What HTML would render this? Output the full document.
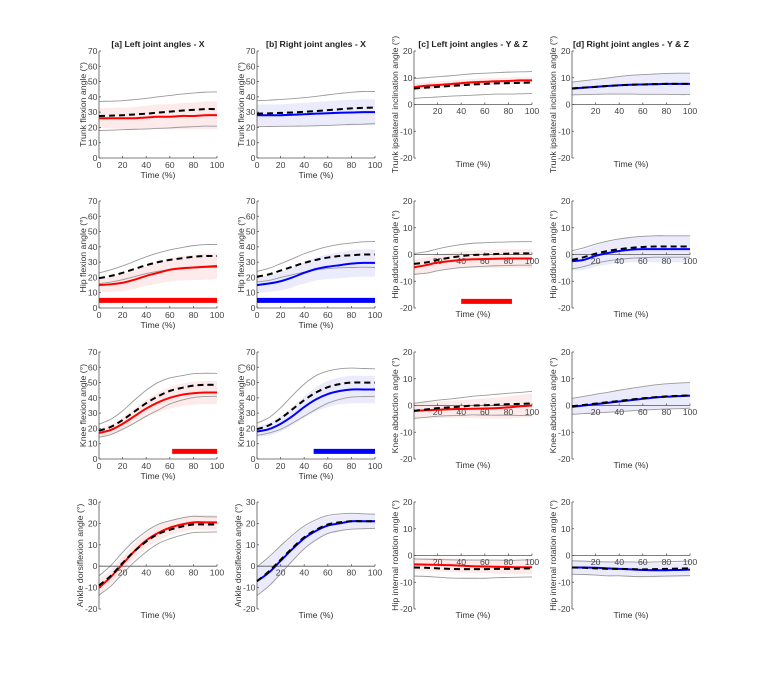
<!DOCTYPE html>
<html><head><meta charset="utf-8"><style>
body{margin:0;background:#fff}
svg{display:block;font-family:"Liberation Sans",sans-serif}
</style></head><body>
<svg id="fig" width="764" height="685" viewBox="0 0 764 685"></svg>
<script>
const timePoints=[0,10,20,30,40,50,60,70,80,90,100];
const tickLabelsX=[0,20,40,60,80,100];
const columnTitles=["[a] Left joint angles - X","[b] Right joint angles - X","[c] Left joint angles - Y & Z","[d] Right joint angles - Y & Z"];
// row 1
const aTrunkMean=[26,26,26,26,26.5,27,27,27.5,27.5,28,28];
const aTrunkSd=[6.5,6.7,7,7.3,7.6,8,8.3,8.5,8.7,9,9];
const aTrunkHealthy=[27.5,27.7,28,28.5,29,29.7,30.3,31,31.5,32,32];
const aTrunkHealthySd=[9.5,9.5,9.5,9.7,10,10.3,10.6,10.8,11,11.1,11.2];
const bTrunkMean=[28,28,28,28.3,28.6,29,29.3,29.6,29.8,30,30];
const bTrunkSd=[7,7,7.1,7.3,7.5,7.7,7.9,8.1,8.3,8.4,8.5];
const bTrunkHealthy=[29,29.2,29.5,29.8,30.2,30.7,31.3,31.9,32.5,32.8,33];
const bTrunkHealthySd=[8.5,8.6,8.8,9,9.3,9.6,10,10.3,10.5,10.7,10.5];
const cTrunkMean=[6.5,7,7.3,7.6,8,8.3,8.5,8.7,8.8,9,9];
const cTrunkSd=[1.3,1.3,1.3,1.3,1.3,1.3,1.3,1.3,1.3,1.3,1.3];
const cTrunkHealthy=[6,6.3,6.6,6.9,7.2,7.5,7.7,7.9,8,8.1,8.2];
const cTrunkHealthySd=[3.7,3.7,3.8,3.8,3.9,4,4,4,4.1,4.1,4.1];
const dTrunkMean=[6,6.3,6.6,6.9,7.2,7.4,7.5,7.6,7.7,7.7,7.7];
const dTrunkSd=[2.4,2.6,2.8,3,3.3,3.5,3.7,3.8,3.9,4,4];
const dTrunkHealthy=[6,6.3,6.6,6.9,7.2,7.4,7.5,7.6,7.7,7.7,7.7];
const dTrunkHealthySd=[2.4,2.6,2.8,3,3.3,3.5,3.7,3.8,3.9,4,4];
// row 2
const aHipMean=[15,15.5,16.5,18.5,21,23,25,26,26.5,27,27.5];
const aHipSd=[4.5,5,5.5,6,6.5,7,7.5,8,8.3,8.5,8.5];
const aHipHealthy=[19.5,21,23,25.5,28,30,31.5,32.5,33.5,34,34];
const aHipHealthySd=[3.5,4,4.5,5,5.5,6,6.5,7,7.3,7.5,7.5];
const bHipMean=[15,16,17.5,20,23,25.5,27,28,29,29.5,29.5];
const bHipSd=[5,5.5,6,6.5,7,7.5,8,8.5,8.8,9,9];
const bHipHealthy=[20.5,22,24.5,27,29.5,31.5,33,34,34.5,35,35];
const bHipHealthySd=[3.5,4,4.5,5.2,6,6.6,7.2,7.7,8,8.3,8.5];
const cHipMean=[-4.8,-4,-3,-2.5,-2,-1.8,-1.7,-1.6,-1.5,-1.5,-1.5];
const cHipSd=[2.8,2.9,3,3.1,3.2,3.3,3.4,3.5,3.5,3.5,3.5];
const cHipHealthy=[-3.5,-3,-2,-1.2,-0.6,-0.2,0,0.2,0.3,0.4,0.4];
const cHipHealthySd=[3.9,4,4.1,4.2,4.3,4.4,4.4,4.4,4.4,4.4,4.4];
const dHipMean=[-2.5,-2,-0.5,0.5,1.3,1.8,2,2,2,2,2];
const dHipSd=[3.5,3.8,4,4.3,4.5,4.7,4.8,4.9,5,5,5];
const dHipHealthy=[-2,-1,0.3,1.3,2,2.5,2.8,3,3,3,3];
const dHipHealthySd=[3.4,3.5,3.6,3.7,3.8,3.9,4,4,4,4,4];
// row 3
const aKneeMean=[17,19,23,28,33,37,40,42,43,43.5,43.5];
const aKneeSd=[3,3.5,4.2,5,5.8,6.5,7,7.3,7.5,7.5,7.5];
const aKneeHealthy=[18.5,21,25.5,31,36.5,41,44.5,46.5,48,48.5,48.5];
const aKneeHealthySd=[4.3,5,6,7.5,8.5,9,8.5,8,7.8,7.6,7.5];
const bKneeMean=[18,19.5,23,28,34,39,42.5,44.5,45.5,45.5,45.5];
const bKneeSd=[3.5,4.2,5,6,7,8,8.5,8.8,9,9,9];
const bKneeHealthy=[19.5,22,26.5,32.5,38.5,43.5,47,49,50,50,50];
const bKneeHealthySd=[4,5,7,9,10.5,11,10.5,10,9.5,9.2,9];
const cKneeMean=[-2,-1.8,-1.6,-1.4,-1.3,-1.2,-1.1,-1,-0.7,-0.3,0];
const cKneeSd=[3,3,3.1,3.2,3.3,3.5,3.7,3.9,4.1,4.3,4.5];
const cKneeHealthy=[-2,-1.5,-1,-0.7,-0.4,0,0.1,0.3,0.5,0.6,0.8];
const cKneeHealthySd=[2.8,2.9,3,3.1,3.3,3.5,3.7,3.9,4.1,4.3,4.5];
const dKneeMean=[-0.5,0,0.5,1,1.5,2,2.5,3,3.3,3.5,3.7];
const dKneeSd=[3,3.2,3.5,3.7,4,4.2,4.4,4.6,4.7,4.8,4.8];
const dKneeHealthy=[-0.3,0.2,0.7,1.2,1.7,2.2,2.7,3.1,3.4,3.6,3.8];
const dKneeHealthySd=[3,3.2,3.5,3.7,4,4.2,4.4,4.6,4.7,4.8,4.8];
// row 4
const aAnkleMean=[-10,-5,1,7,12,15.5,18,19.5,20.5,20.5,20.5];
const aAnkleSd=[3.5,3.5,3.5,3.5,3.5,3.5,3.5,3.5,3.5,3.5,3.5];
const aAnkleHealthy=[-9,-4.5,1.5,7,11.5,15,17,18.5,19.5,19.5,19.5];
const aAnkleHealthySd=[4.5,4.8,5,5,4.8,4.5,4.2,4,3.8,3.6,3.5];
const bAnkleMean=[-7,-3,2.5,8,13,16.5,19,20,21,21,21];
const bAnkleSd=[6.5,6.8,6.5,6,5.3,4.7,4.2,3.9,3.7,3.5,3.5];
const bAnkleHealthy=[-7,-2.5,3,8.5,13.5,17,19.5,20.5,21,21,21];
const bAnkleHealthySd=[6.7,6.8,6.5,6,5.3,4.7,4.2,3.9,3.7,3.5,3.3];
const cRotMean=[-3.3,-3.4,-3.5,-3.6,-3.8,-4,-4.1,-4.2,-4.3,-4.4,-4.4];
const cRotSd=[2.4,2.4,2.5,2.5,2.6,2.6,2.6,2.6,2.6,2.6,2.6];
const cRotHealthy=[-4.5,-4.6,-4.8,-5,-5.1,-5.1,-5.1,-5,-5,-4.9,-4.8];
const cRotHealthySd=[3.2,3.2,3.3,3.4,3.4,3.4,3.4,3.3,3.2,3.2,3.2];
const dRotMean=[-4.5,-4.5,-4.6,-4.8,-5,-5.2,-5.4,-5.5,-5.5,-5.4,-5.3];
const dRotSd=[2.5,2.5,2.5,2.6,2.6,2.7,2.7,2.7,2.7,2.7,2.7];
const dRotHealthy=[-4.5,-4.6,-4.8,-5,-5,-5.1,-5.2,-5.1,-5,-4.9,-4.8];
const dRotHealthySd=[2.5,2.5,2.5,2.6,2.6,2.7,2.7,2.7,2.7,2.7,2.7];
// significance bars [start, end, level]
const aHipSig=[0,100,5];
const bHipSig=[0,100,5];
const cHipSig=[40,83,-17.5];
const aKneeSig=[62,100,5];
const bKneeSig=[48,100,5];

const NS="http://www.w3.org/2000/svg";
const svg=document.getElementById('fig');
function mk(tag,attrs,parent){const e=document.createElementNS(NS,tag);for(const k in attrs)e.setAttribute(k,attrs[k]);(parent||svg).appendChild(e);return e;}
function smooth(pts){let d='M'+pts[0][0].toFixed(2)+','+pts[0][1].toFixed(2);for(let i=0;i<pts.length-1;i++){const p0=pts[Math.max(0,i-1)],p1=pts[i],p2=pts[i+1],p3=pts[Math.min(pts.length-1,i+2)];const c1=[p1[0]+(p2[0]-p0[0])/6,p1[1]+(p2[1]-p0[1])/6],c2=[p2[0]-(p3[0]-p1[0])/6,p2[1]-(p3[1]-p1[1])/6];d+='C'+c1[0].toFixed(2)+','+c1[1].toFixed(2)+' '+c2[0].toFixed(2)+','+c2[1].toFixed(2)+' '+p2[0].toFixed(2)+','+p2[1].toFixed(2);}return d;}
function smoothPts(pts){return smooth(pts).slice(1);}

const colX=[99,257,414,572];
const rowTop=[51,201,352,502];
const W=118,H=107;
const FS=8.7;
const colors=['#ff0000','#0000ff','#ff0000','#0000ff'];
const bands=['#fdeaea','#ebebfc','#fdeaea','#ebebfc'];

function panel(col,row,name,ylabel,ymin,ymax,ystep,mean,sd,hm,hsd,sig){
  const g=mk('g',{});
  
  
  const x0=colX[col],y0=rowTop[row];
  const sx=v=>x0+v/100*W;
  const sy=v=>y0+H-(v-ymin)/(ymax-ymin)*H;
  const up=timePoints.map((t,i)=>[sx(t),sy(mean[i]+sd[i])]);
  const lo=timePoints.map((t,i)=>[sx(t),sy(mean[i]-sd[i])]).reverse();
  const band=mk('path',{d:smooth(up)+'L'+smoothPts(lo)+'Z',fill:bands[col],stroke:'none'},g);
  
  
  const hu=mk('path',{d:smooth(timePoints.map((t,i)=>[sx(t),sy(hm[i]+hsd[i])])),fill:'none',stroke:'#9a9a9a','stroke-width':0.9},g);
  
  
  const hl=mk('path',{d:smooth(timePoints.map((t,i)=>[sx(t),sy(hm[i]-hsd[i])])),fill:'none',stroke:'#9a9a9a','stroke-width':0.9},g);
  
  
  const zeroAxis=(ymin<0);
  const axisY=zeroAxis?sy(0):y0+H;
  const ya=mk('line',{x1:x0,y1:y0,x2:x0,y2:y0+H,stroke:'#555','stroke-width':0.8},g);
  
  
  const xa=mk('line',{x1:x0,y1:axisY,x2:x0+W,y2:axisY,stroke:'#555','stroke-width':0.8},g);
  
  
  for(let v=ymin;v<=ymax+1e-9;v+=ystep){
    mk('line',{x1:x0,y1:sy(v),x2:x0+2,y2:sy(v),stroke:'#555','stroke-width':0.8},g);
    const t=mk('text',{x:x0-1.5,y:sy(v)+3,'text-anchor':'end','font-size':FS,fill:'#444'},g);
    
    
    t.textContent=v;
  }
  tickLabelsX.forEach(v=>{
    if(zeroAxis&&v===0)return;
    mk('line',{x1:sx(v),y1:axisY,x2:sx(v),y2:axisY-2,stroke:'#555','stroke-width':0.8},g);
    const t=mk('text',{x:sx(v),y:axisY+(zeroAxis?9.5:10),'text-anchor':'middle','font-size':FS,fill:'#444'},g);
    
    
    t.textContent=v;
  });
  const xt=mk('text',{x:x0+W/2,y:zeroAxis?y0+H+9:y0+H+20,'text-anchor':'middle','font-size':FS,fill:'#333'},g);
  
  
  xt.textContent='Time (%)';
  const yx=x0-(zeroAxis?16:13), yc=y0+H/2;
  const yt=mk('text',{x:yx,y:yc,'text-anchor':'middle','font-size':FS,fill:'#333',transform:`rotate(-90 ${yx} ${yc})`},g);
  
  
  yt.textContent=ylabel;
  const pm=mk('path',{d:smooth(timePoints.map((t,i)=>[sx(t),sy(mean[i])])),fill:'none',stroke:colors[col],'stroke-width':2},g);
  
  
  const hd=mk('path',{d:smooth(timePoints.map((t,i)=>[sx(t),sy(hm[i])])),fill:'none',stroke:'#000','stroke-width':2,'stroke-dasharray':'6,4'},g);
  
  
  if(sig){
    const s=mk('line',{x1:sx(sig[0]),y1:sy(sig[2]),x2:sx(sig[1]),y2:sy(sig[2]),stroke:colors[col],'stroke-width':5},g);
    
    
  }
  if(row===0){
    const tt=mk('text',{x:x0+W/2,y:y0-4,'text-anchor':'middle','font-size':FS,'font-weight':'bold',fill:'#222'},g);
    
    
    tt.textContent=columnTitles[col];
  }
}
panel(0,0,'left-trunk-flexion','Trunk flexion angle (°)',0,70,10,aTrunkMean,aTrunkSd,aTrunkHealthy,aTrunkHealthySd,null);
panel(1,0,'right-trunk-flexion','Trunk flexion angle (°)',0,70,10,bTrunkMean,bTrunkSd,bTrunkHealthy,bTrunkHealthySd,null);
panel(2,0,'left-trunk-inclination','Trunk ipsilateral inclination angle (°)',-20,20,10,cTrunkMean,cTrunkSd,cTrunkHealthy,cTrunkHealthySd,null);
panel(3,0,'right-trunk-inclination','Trunk ipsilateral inclination angle (°)',-20,20,10,dTrunkMean,dTrunkSd,dTrunkHealthy,dTrunkHealthySd,null);
panel(0,1,'left-hip-flexion','Hip flexion angle (°)',0,70,10,aHipMean,aHipSd,aHipHealthy,aHipHealthySd,aHipSig);
panel(1,1,'right-hip-flexion','Hip flexion angle (°)',0,70,10,bHipMean,bHipSd,bHipHealthy,bHipHealthySd,bHipSig);
panel(2,1,'left-hip-abduction','Hip adduction angle (°)',-20,20,10,cHipMean,cHipSd,cHipHealthy,cHipHealthySd,cHipSig);
panel(3,1,'right-hip-abduction','Hip adduction angle (°)',-20,20,10,dHipMean,dHipSd,dHipHealthy,dHipHealthySd,null);
panel(0,2,'left-knee-flexion','Knee flexion angle (°)',0,70,10,aKneeMean,aKneeSd,aKneeHealthy,aKneeHealthySd,aKneeSig);
panel(1,2,'right-knee-flexion','Knee flexion angle (°)',0,70,10,bKneeMean,bKneeSd,bKneeHealthy,bKneeHealthySd,bKneeSig);
panel(2,2,'left-knee-abduction','Knee abduction angle (°)',-20,20,10,cKneeMean,cKneeSd,cKneeHealthy,cKneeHealthySd,null);
panel(3,2,'right-knee-abduction','Knee abduction angle (°)',-20,20,10,dKneeMean,dKneeSd,dKneeHealthy,dKneeHealthySd,null);
panel(0,3,'left-ankle-dorsiflexion','Ankle dorsiflexion angle (°)',-20,30,10,aAnkleMean,aAnkleSd,aAnkleHealthy,aAnkleHealthySd,null);
panel(1,3,'right-ankle-dorsiflexion','Ankle dorsiflexion angle (°)',-20,30,10,bAnkleMean,bAnkleSd,bAnkleHealthy,bAnkleHealthySd,null);
panel(2,3,'left-hip-rotation','Hip internal rotation angle (°)',-20,20,10,cRotMean,cRotSd,cRotHealthy,cRotHealthySd,null);
panel(3,3,'right-hip-rotation','Hip internal rotation angle (°)',-20,20,10,dRotMean,dRotSd,dRotHealthy,dRotHealthySd,null);
</script>
</body></html>
